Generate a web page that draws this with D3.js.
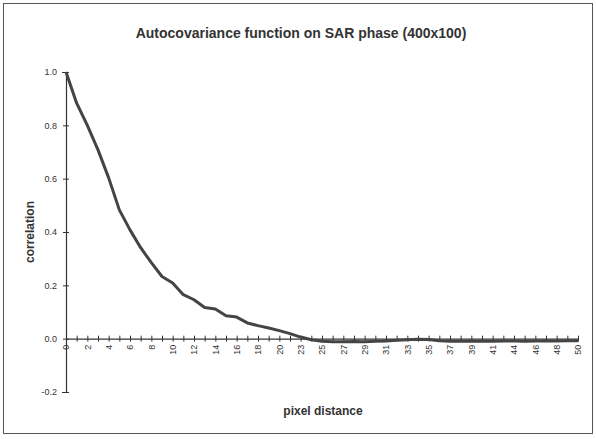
<!DOCTYPE html>
<html>
<head>
<meta charset="utf-8">
<script src="https://cdn.jsdelivr.net/npm/d3@7"></script>
<style>
  body { margin: 0; background: #fff; }
  svg { display: block; font-family: "Liberation Sans", Arial, sans-serif; }
</style>
</head>
<body>
<div id="chart"></div>
<script>
// Pixel distances (two lags are absent from the source table)
const distances = [0,1,2,3,4,5,6,7,8,9,10,11,12,13,14,15,16,17,18,19,20,21,
  23,24,25,26,27,28,29,30,31,32,33,34,35,36,37,38,39,40,41,42,
  44,45,46,47,48,49,50];

// Autocovariance
const correlation = [1.0,0.883,0.80,0.708,0.603,0.483,0.408,0.341,0.285,0.233,0.209,0.165,0.146,0.117,0.111,0.086,0.081,0.059,0.049,0.040,0.030,0.019,
  0.006,-0.004,-0.010,-0.012,-0.012,-0.011,-0.012,-0.010,-0.009,-0.006,-0.004,-0.002,-0.003,-0.008,-0.010,-0.010,-0.009,-0.010,-0.010,-0.009,
  -0.009,-0.010,-0.009,-0.008,-0.009,-0.008,-0.008];

const yTicks = [-0.2, 0.0, 0.2, 0.4, 0.6, 0.8, 1.0];

const width = 596, height = 439;
const margin = { left: 66, right: 18, top: 72, bottom: 47 };

const svg = d3.select('#chart').append('svg')
    .attr('width', width)
    .attr('height', height);

// Outer frame
svg.append('rect')
    .attr('x', 3.5).attr('y', 3.5)
    .attr('width', width - 7).attr('height', height - 9)
    .attr('fill', 'none')
    .attr('stroke', '#555')
    .attr('stroke-width', 1);

// Scales
const x = d3.scalePoint()
    .domain(d3.range(distances.length))
    .range([margin.left, width - margin.right]);

const y = d3.scaleLinear()
    .domain([-0.2, 1.0])
    .range([height - margin.bottom, margin.top]);

// Title
svg.append('text')
    .attr('x', 301).attr('y', 38)
    .attr('text-anchor', 'middle')
    .style('font-size', '14px')
    .style('font-weight', 'bold')
    .style('fill', '#333')
    .text('Autocovariance function on SAR phase (400x100)');

// Y axis
const yAxis = svg.append('g')
    .attr('transform', `translate(${margin.left},0)`)
    .call(d3.axisLeft(y).tickValues(yTicks).tickFormat(d3.format('.1f')).tickSize(4).tickPadding(5));
yAxis.select('.domain').attr('stroke', '#333').attr('stroke-width', 1.2);
yAxis.selectAll('.tick line').attr('stroke', '#333').attr('x2', 3).attr('x1', -3);
yAxis.selectAll('.tick text')
    .style('font-size', '9px')
    .style('fill', '#333')
    .text(d => d3.format('.1f')(d).replace('−', '-'));

// X axis on y = 0
const xAxis = svg.append('g')
    .attr('transform', `translate(0,${y(0)})`)
    .call(d3.axisBottom(x).tickSize(3).tickSizeOuter(0)
        .tickFormat(i => i % 2 === 0 ? distances[i] : ''));
xAxis.select('.domain').attr('stroke', '#333').attr('stroke-width', 1.2);
xAxis.selectAll('.tick line').attr('stroke', '#333').attr('y1', -3).attr('y2', 3);
xAxis.selectAll('.tick text')
    .style('font-size', '9px')
    .style('fill', '#333')
    .attr('text-anchor', 'end')
    .attr('transform', 'rotate(-90)')
    .attr('x', -6)
    .attr('y', 0)
    .attr('dy', '0.32em');

// Series line
const line = d3.line()
    .x((d, i) => x(i))
    .y(d => y(d));

svg.append('path')
    .datum(correlation)
    .attr('fill', 'none')
    .attr('stroke', '#444')
    .attr('stroke-width', 3)
    .attr('stroke-linejoin', 'round')
    .attr('d', line);

// Axis titles
svg.append('text')
    .attr('transform', `translate(34,${(margin.top + height - margin.bottom) / 2}) rotate(-90)`)
    .attr('text-anchor', 'middle')
    .style('font-size', '12px')
    .style('font-weight', 'bold')
    .style('fill', '#333')
    .text('correlation');

svg.append('text')
    .attr('x', 323).attr('y', 415)
    .attr('text-anchor', 'middle')
    .style('font-size', '12px')
    .style('font-weight', 'bold')
    .style('fill', '#333')
    .text('pixel distance');
</script>
</body>
</html>
